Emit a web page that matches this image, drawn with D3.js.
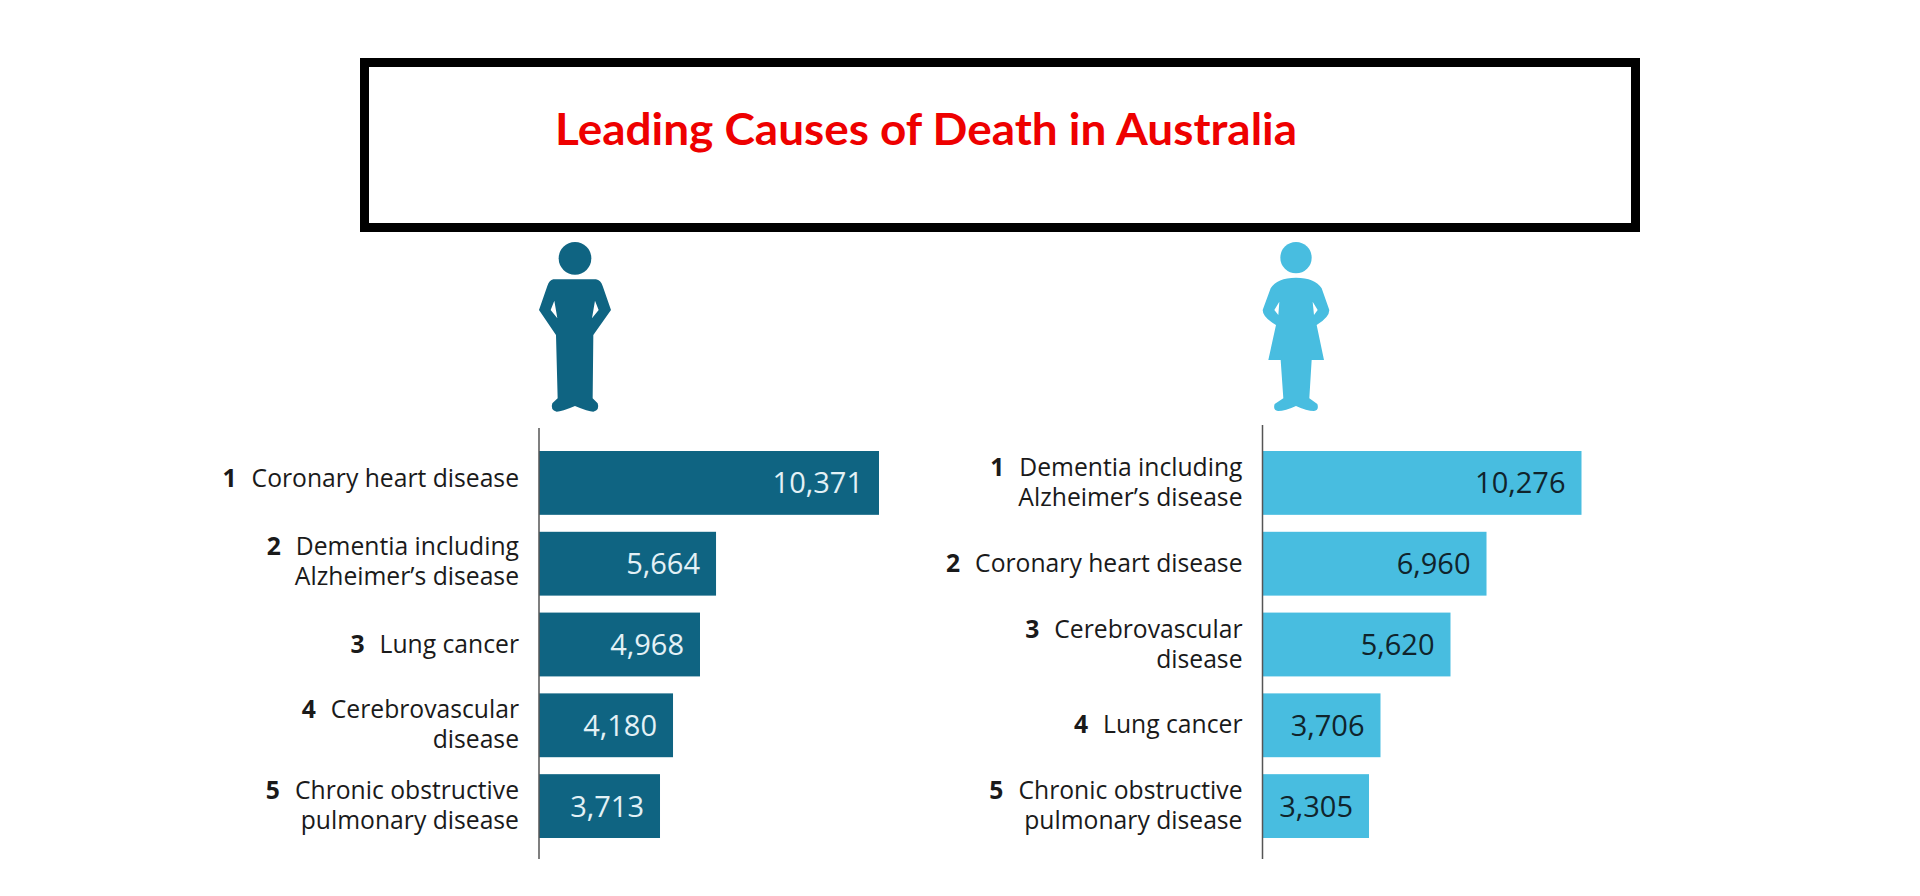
<!DOCTYPE html>
<html>
    <head>
        <meta charset="utf-8">
        <script src="https://d3js.org/d3.v7.min.js"></script>
        <style>
          html, body { margin: 0; background: #ffffff; }
          svg { display: block; }
          text { font-family: "Open Sans", sans-serif; }
      </style>
    </head>
    <body>
        <div id="chart"></div>
        <script>

            /* DATA */
            var title = "Leading Causes of Death in Australia";
            var ranks = ["1", "2", "3", "4", "5"];

            var maleCauses = [
                ["Coronary heart disease"],
                ["Dementia including", "Alzheimer\u2019s disease"],
                ["Lung cancer"],
                ["Cerebrovascular", "disease"],
                ["Chronic obstructive", "pulmonary disease"]
            ];
            var maleValues = [10371, 5664, 4968, 4180, 3713];
            // the bars in the picture are not quite in proportion to their printed
            // numbers, so these are the lengths as read off the bars themselves
            var maleBarLengths = [10371, 5400, 4911, 4088, 3691];

            var femaleCauses = [
                ["Dementia including", "Alzheimer\u2019s disease"],
                ["Coronary heart disease"],
                ["Cerebrovascular", "disease"],
                ["Lung cancer"],
                ["Chronic obstructive", "pulmonary disease"]
            ];
            var femaleValues = [10276, 6960, 5620, 3706, 3305];
            var femaleBarLengths = [10276, 7216, 6056, 3801, 3431];

            var width = 1920;
            var height = 896;
            var svg = d3.select("#chart")
                .append("svg")
                .attr("width", width)
                .attr("height", height);

            /* TITLE BOX */
            svg.append("rect")
                .attr("x", 364.5)
                .attr("y", 62.5)
                .attr("width", 1271)
                .attr("height", 165)
                .attr("fill", "#ffffff")
                .attr("stroke", "#000000")
                .attr("stroke-width", 9);

            svg.append("text")
                .attr("x", 555)
                .attr("y", 145)
                .attr("textLength", 742)
                .attr("lengthAdjust", "spacingAndGlyphs")
                .style("font-family", "Lato, sans-serif")
                .style("font-weight", 700)
                .style("font-size", "44px")
                .attr("fill", "#ee0000")
                .text(title);

            /* PICTOGRAMS */
            var manBody = "M130,148 L258,148 Q272,150 278,168 L303,240 L250,315 L248,505 "
                + "L263,520 Q270,540 250,545 Q235,545 195,528 Q155,545 140,545 Q120,540 127,520 L143,505 L138,315 "
                + "L87,240 L112,168 Q118,150 130,148 Z "
                + "M133,212 L122,240 L142,265 Z M255,212 L266,240 L246,265 Z";
            var womanBody = "M168,143 Q225,143 245,175 L268,240 Q268,262 230,285 L252,390 L215,390 L208,505 "
                + "L232,522 Q238,540 222,543 Q200,543 168,528 Q136,543 114,543 Q98,540 104,522 L130,505 L122,390 "
                + "L85,390 L108,285 Q68,262 68,240 L92,175 Q111,143 168,143 Z "
                + "M118,215 L103,240 L115,255 Z M218,215 L233,240 L222,255 Z";

            function drawPerson(x, y, headX, headY, headR, body, colour) {
                var g = svg.append("g")
                    .attr("transform", "translate(" + x + "," + y + ") scale(0.3333)")
                    .attr("fill", colour);
                g.append("circle")
                    .attr("cx", headX)
                    .attr("cy", headY)
                    .attr("r", headR);
                g.append("path")
                    .attr("d", body)
                    .attr("fill-rule", "evenodd");
            }

            drawPerson(510, 230, 195, 85, 49, manBody, "#0f6482");
            drawPerson(1240, 230, 168, 83, 47, womanBody, "#48bde0");

            /* BAR PANELS */
            function drawPanel(causes, values, lengths, axisX, barMax, axisTop, barColour, numberColour, labelShift) {
                var x = d3.scaleLinear()
                    .domain([0, lengths[0]])
                    .range([axisX, axisX + barMax]);

                var y = d3.scaleBand()
                    .domain(ranks)
                    .range([451, 838])
                    .paddingInner(0.21);

                var rows = ranks.map(function(r, i) {
                    return {rank: r, cause: causes[i], value: values[i], length: lengths[i], shift: labelShift[i]};
                });

                svg.append("g")
                    .selectAll("rect")
                    .data(rows)
                    .enter()
                    .append("rect")
                        .attr("x", axisX)
                        .attr("y", function(d) { return y(d.rank); })
                        .attr("width", function(d) { return x(d.length) - axisX; })
                        .attr("height", y.bandwidth())
                        .attr("fill", barColour);

                svg.append("line")
                    .attr("x1", axisX)
                    .attr("x2", axisX)
                    .attr("y1", axisTop)
                    .attr("y2", 859)
                    .attr("stroke", "#555555")
                    .attr("stroke-width", 1.5);

                // numbers inside the bars
                svg.append("g")
                    .selectAll("text")
                    .data(rows)
                    .enter()
                    .append("text")
                        .attr("x", function(d) { return x(d.length) - 16; })
                        .attr("y", function(d) { return y(d.rank) + y.bandwidth() / 2; })
                        .attr("dy", "0.36em")
                        .attr("text-anchor", "end")
                        .attr("fill", numberColour)
                        .style("font-size", "29px")
                        .text(function(d) { return d3.format(",")(d.value); });

                // rank and cause labels, one or two lines
                var labels = svg.append("g")
                    .selectAll("text")
                    .data(rows)
                    .enter()
                    .append("text")
                        .attr("text-anchor", "end")
                        .attr("fill", "#1a1a1a")
                        .style("font-size", "24.7px")
                        .attr("y", function(d) {
                            var mid = y(d.rank) + y.bandwidth() / 2;
                            return mid + 8 + d.shift - (d.cause.length - 1) * 15;
                        });

                labels.each(function(d) {
                    var t = d3.select(this);
                    t.append("tspan")
                        .attr("x", axisX - 20)
                        .style("font-weight", 700)
                        .text(d.rank);
                    t.append("tspan")
                        .attr("dx", 15)
                        .text(d.cause[0]);
                    if (d.cause.length > 1) {
                        t.append("tspan")
                            .attr("x", axisX - 20)
                            .attr("dy", 30)
                            .text(d.cause[1]);
                    }
                });
            }

            drawPanel(maleCauses, maleValues, maleBarLengths, 539, 340, 428, "#0f6482", "#e3f1f6", [-3.5, -2, 0, 0, 0]);
            drawPanel(femaleCauses, femaleValues, femaleBarLengths, 1262.5, 319, 425, "#48bde0", "#10242c", [0, 0, 0, 0, 0]);

        </script>
    </body>
</html>
